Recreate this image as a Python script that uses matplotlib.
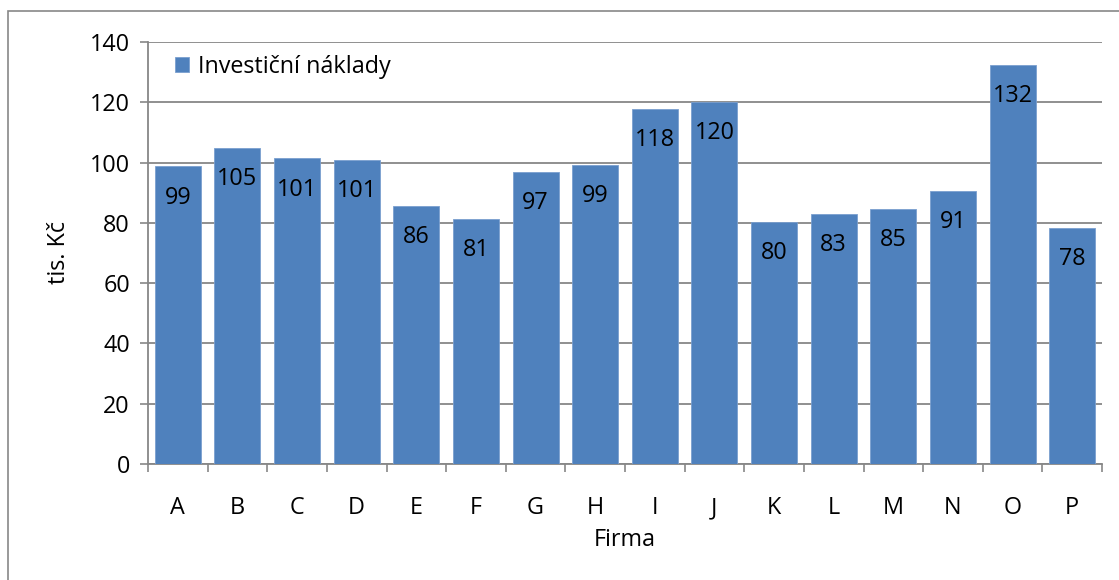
import numpy as np
import matplotlib.pyplot as plt
from matplotlib.patches import Rectangle

firmy = ["A", "B", "C", "D", "E", "F", "G", "H",
         "I", "J", "K", "L", "M", "N", "O", "P"]
naklady = [98.7, 104.9, 101.4, 100.8, 85.7, 81.2, 96.8, 99.2,
           117.9, 120.2, 80.4, 83.1, 84.6, 90.7, 132.3, 78.3]
y_ticks = [0, 20, 40, 60, 80, 100, 120, 140]

plt.rcParams["font.family"] = ["Open Sans", "DejaVu Sans"]
FS = 16.8
GRAY = "#878787"
BLUE = "#4F81BD"

W, H = 1119, 580
fig = plt.figure(figsize=(W / 100, H / 100), dpi=100)

# chart area frame
fig.patches.append(Rectangle((8 / W, -0.05), 1.2, (580 - 11) / H + 0.05,
                             transform=fig.transFigure, fill=False,
                             edgecolor=GRAY, linewidth=1.2))

ax = fig.add_axes([148 / W, (H - 464) / H, (1102 - 148) / W, (464 - 42) / H])

x = np.arange(len(firmy))
bars = ax.bar(x, naklady, width=0.77, color=BLUE, edgecolor="#7A9FCF",
              linewidth=0.6, label="Investiční náklady", zorder=3)

for xi, v in zip(x, naklady):
    ax.annotate(f"{v:.0f}", (xi, v), xytext=(0, -26.8),
                textcoords="offset points", ha="center", va="baseline",
                fontsize=FS, color="black", zorder=4)

ax.set_xlim(-0.5, len(firmy) - 0.5)
ax.set_ylim(0, 140)
ax.set_yticks(y_ticks)
ax.yaxis.grid(True, color=GRAY, linewidth=1.3, zorder=0)
ax.set_axisbelow(True)

# category boundaries carry the tick marks, labels sit in between
ax.set_xticks(np.arange(-0.5, len(firmy)), labels=[])
ax.set_xticks(x, labels=firmy, minor=True)
ax.tick_params(axis="x", which="major", length=6, width=1.2, color=GRAY)
ax.tick_params(axis="x", which="minor", length=0, pad=23, labelsize=FS)
ax.tick_params(axis="y", length=6, width=1.2, color=GRAY, pad=7,
               labelsize=FS)

for side in ("top", "right"):
    ax.spines[side].set_visible(False)
for side in ("left", "bottom"):
    ax.spines[side].set_color(GRAY)
    ax.spines[side].set_linewidth(1.3)

ax.set_ylabel("tis. Kč", fontsize=FS)
ax.yaxis.set_label_coords(-0.081, 0.5)
ax.set_xlabel("Firma", fontsize=FS)
ax.xaxis.set_label_coords(0.5, -0.152)

ax.legend(loc="center left", bbox_to_anchor=(0.028, 0.941), frameon=False,
          fontsize=FS, handlelength=0.6, handleheight=0.6,
          handletextpad=0.4, borderpad=0, borderaxespad=0)

fig.savefig("out.png", dpi=100)
